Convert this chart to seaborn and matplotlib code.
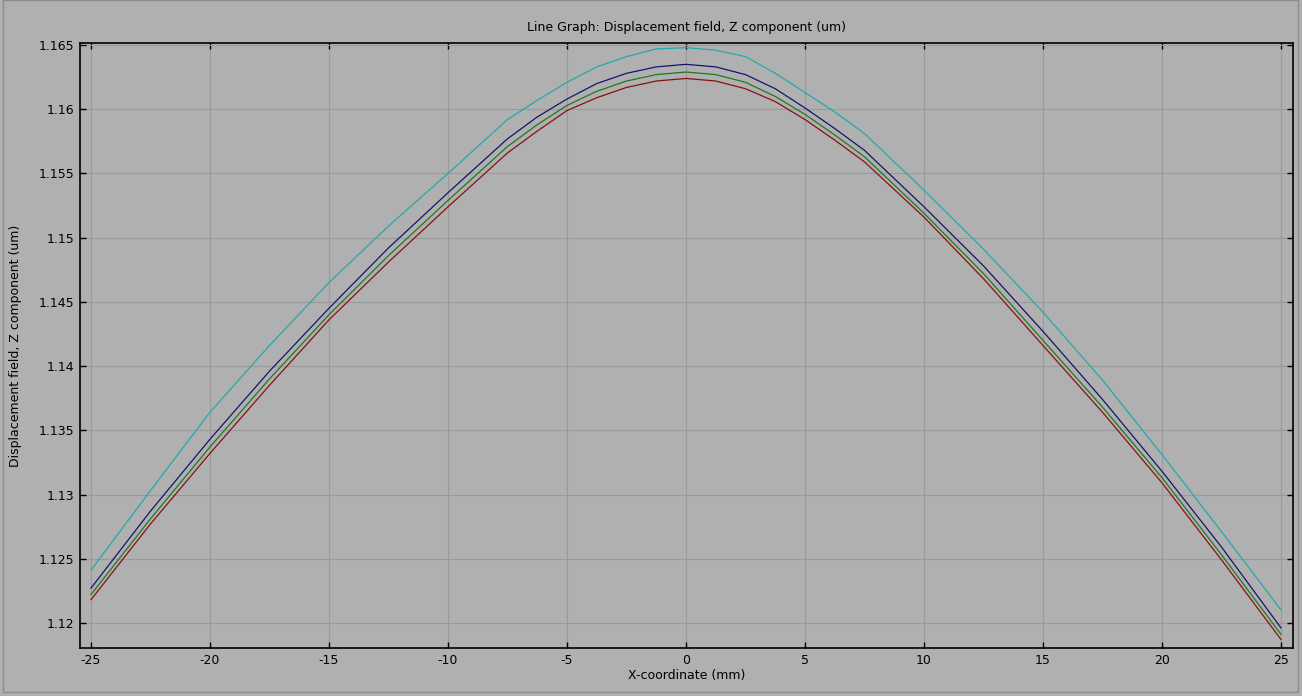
#!/usr/bin/env python
"""Line graph: displacement field Z component along X (four lines)."""

import matplotlib

matplotlib.use("Agg")

import matplotlib.pyplot as plt
import pandas as pd
import seaborn as sns
from matplotlib.patches import Rectangle
from matplotlib.ticker import FuncFormatter, MultipleLocator

X_MM = [-25, -22.5, -20, -17.5, -15, -12.5, -10, -7.5, -6.25, -5, -3.75, -2.5, -1.25, 0,
        1.25, 2.5, 3.75, 5, 6.25, 7.5, 10, 12.5, 15, 17.5, 20, 22.5, 25]

LINE_BLUE = [1.1227, 1.1287, 1.1343, 1.1396, 1.1445, 1.1492, 1.1535, 1.1577, 1.1594, 1.1608,
             1.1620, 1.1628, 1.1633, 1.1635, 1.1633, 1.1627, 1.1616, 1.1601, 1.1585, 1.1568,
             1.1524, 1.1478, 1.1427, 1.1374, 1.1318, 1.1259, 1.1196]
LINE_GREEN = [1.1222, 1.1281, 1.1337, 1.1390, 1.1440, 1.1486, 1.1529, 1.1571, 1.1588, 1.1603,
              1.1614, 1.1622, 1.1627, 1.1629, 1.1627, 1.1621, 1.1610, 1.1596, 1.1580, 1.1563,
              1.1519, 1.1472, 1.1420, 1.1368, 1.1313, 1.1253, 1.1191]
LINE_RED = [1.1218, 1.1277, 1.1332, 1.1385, 1.1436, 1.1481, 1.1524, 1.1566, 1.1583, 1.1599,
            1.1609, 1.1617, 1.1622, 1.1624, 1.1622, 1.1616, 1.1606, 1.1592, 1.1576, 1.1559,
            1.1516, 1.1468, 1.1416, 1.1364, 1.1309, 1.1249, 1.1187]
LINE_CYAN = [1.1241, 1.1303, 1.1364, 1.1416, 1.1465, 1.1509, 1.1550, 1.1592, 1.1607, 1.1621,
             1.1633, 1.1641, 1.1647, 1.1648, 1.1646, 1.1641, 1.1628, 1.1613, 1.1598, 1.1581,
             1.1537, 1.1491, 1.1442, 1.1389, 1.1331, 1.1271, 1.1210]

SERIES = {"blue": LINE_BLUE, "green": LINE_GREEN, "red": LINE_RED, "cyan": LINE_CYAN}
PALETTE = {"blue": "#14146e", "green": "#217821", "red": "#8a1010", "cyan": "#22aaaa"}

BG = "#b0b0b0"
GRID = "#9a9a9a"


def main() -> None:
    df = pd.concat(
        [pd.DataFrame({"x": X_MM, "w": vals, "line": name}) for name, vals in SERIES.items()],
        ignore_index=True,
    )

    sns.set_style("ticks", rc={"axes.facecolor": BG, "figure.facecolor": BG,
                               "text.color": "black", "axes.labelcolor": "black"})
    plt.rcParams["font.family"] = ["DejaVu Sans"]
    plt.rcParams["font.size"] = 9

    fig = plt.figure(figsize=(13.02, 6.96), dpi=100)
    ax = fig.add_axes([0.0614, 0.0690, 0.9317, 0.8692])
    ax.set_facecolor(BG)

    sns.lineplot(data=df, x="x", y="w", hue="line", palette=PALETTE, linewidth=0.9,
                 legend=False, ax=ax, sort=False)

    ax.set_xlim(-25.46, 25.5)
    ax.set_ylim(1.11805, 1.16516)
    ax.xaxis.set_major_locator(MultipleLocator(5))
    ax.yaxis.set_major_locator(MultipleLocator(0.005))
    ax.yaxis.set_major_formatter(FuncFormatter(lambda v, _: f"{v:g}"))
    ax.xaxis.set_major_formatter(FuncFormatter(lambda v, _: f"{v:g}"))

    ax.grid(True, color=GRID, linewidth=0.8)
    ax.set_axisbelow(True)
    ax.tick_params(direction="in", length=4, width=1, colors="black",
                   top=True, right=True, labelsize=9, pad=4)
    for spine in ax.spines.values():
        spine.set_visible(True)
        spine.set_color("black")
        spine.set_linewidth(1.2)

    ax.set_title("Line Graph: Displacement field, Z component (um)", fontsize=9, pad=9,
                 color="black")
    ax.set_xlabel("X-coordinate (mm)", fontsize=9, labelpad=2)
    ax.set_ylabel("Displacement field, Z component (um)", fontsize=9, labelpad=12)

    # window frame
    fig.patches.append(Rectangle((3 / 1302, 4 / 696), 1295 / 1302, 692 / 696,
                                 transform=fig.transFigure, fill=False,
                                 edgecolor="#8c8c8c", linewidth=1.0))

    fig.savefig("out.png", dpi=100, facecolor=BG)
    plt.close(fig)


if __name__ == "__main__":
    main()
